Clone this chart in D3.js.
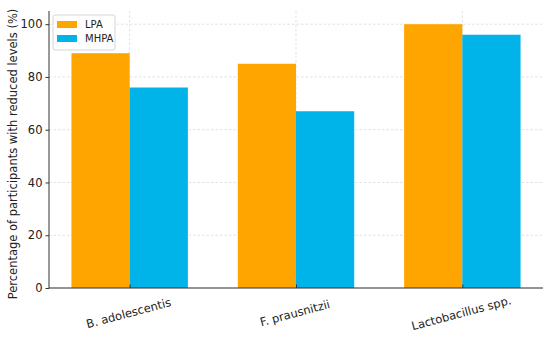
<!DOCTYPE html>
<html lang="en">
<head>
<meta charset="utf-8">
<title>reduced levels</title>
<script src="https://cdn.jsdelivr.net/npm/d3@7"></script>
<style>
  body { margin: 0; background: #fff; }
  text { font-family: "DejaVu Sans", sans-serif; fill: #222; }
</style>
</head>
<body>
<script>
var categories = ["B. adolescentis", "F. prausnitzii", "Lactobacillus spp."];
var seriesNames = ["LPA", "MHPA"];
var lpaValues = [89, 85, 100];
var mhpaValues = [76, 67, 96];
var yTicks = [0, 20, 40, 60, 80, 100];
var colors = ["#ffa500", "#00b3e8"];

var w = 550, h = 341;
var padLeft = 49, padRight = 543, padTop = 11, padBottom = 288;

var svg = d3.select("body").append("svg").attr("width", w).attr("height", h);

// bars sit at index -0.35..+0.35, matplotlib-style 5% margin
var xScale = d3.scaleLinear().domain([-0.485, 2.485]).range([padLeft, padRight]);
var yScale = d3.scaleLinear().domain([0, 105]).range([padBottom, padTop]);
var barW = 0.35;

// gridlines
svg.append("g").selectAll("line").data(yTicks).enter().append("line")
  .attr("x1", padLeft).attr("x2", padRight)
  .attr("y1", function(d){ return yScale(d); }).attr("y2", function(d){ return yScale(d); })
  .attr("stroke", "#d9d9d9").attr("stroke-width", 0.8).attr("stroke-dasharray", "2.5,2");
svg.append("g").selectAll("line").data(categories).enter().append("line")
  .attr("x1", function(d, i){ return xScale(i); }).attr("x2", function(d, i){ return xScale(i); })
  .attr("y1", padTop).attr("y2", padBottom)
  .attr("stroke", "#d9d9d9").attr("stroke-width", 0.8).attr("stroke-dasharray", "2.5,2");

// bars
var series = [lpaValues, mhpaValues];
series.forEach(function(vals, s){
  svg.append("g").selectAll("rect").data(vals).enter().append("rect")
    .attr("x", function(d, i){ return xScale(i - barW + s * barW); })
    .attr("width", xScale(barW) - xScale(0))
    .attr("y", function(d){ return yScale(d); })
    .attr("height", function(d){ return yScale(0) - yScale(d); })
    .attr("fill", colors[s]);
});

// y axis
var yAxis = d3.axisLeft(yScale).tickValues(yTicks).tickSize(3.5).tickPadding(3);
var gy = svg.append("g").attr("transform", "translate(" + padLeft + ",0)").call(yAxis);
gy.select(".domain").remove();
gy.selectAll("text").style("font-size", "11.5px").attr("fill", "#222");
gy.selectAll("line").attr("stroke", "#333");
svg.append("line").attr("x1", padLeft).attr("x2", padLeft).attr("y1", padTop).attr("y2", padBottom)
  .attr("stroke", "#333").attr("stroke-width", 1);

// x axis (ticks pointing inward)
var xAxis = d3.axisBottom(xScale).tickValues([0, 1, 2]).tickSize(-3.5).tickFormat("");
var gx = svg.append("g").attr("transform", "translate(0," + padBottom + ")").call(xAxis);
gx.select(".domain").remove();
gx.selectAll("line").attr("stroke", "#333");
svg.append("line").attr("x1", padLeft).attr("x2", padRight).attr("y1", padBottom).attr("y2", padBottom)
  .attr("stroke", "#333").attr("stroke-width", 1);

svg.append("g").selectAll("text").data(categories).enter().append("text")
  .attr("transform", function(d, i){ return "translate(" + xScale(i) + ",317) rotate(-15)"; })
  .attr("text-anchor", "middle")
  .style("font-size", "11.5px")
  .text(function(d){ return d; });

// y label
svg.append("text")
  .attr("transform", "translate(17,154) rotate(-90)")
  .attr("text-anchor", "middle")
  .style("font-size", "11.5px")
  .text("Percentage of participants with reduced levels (%)");

// legend
var lg = svg.append("g").attr("transform", "translate(53,15)");
lg.append("rect").attr("width", 62).attr("height", 35).attr("rx", 2)
  .attr("fill", "#fff").attr("fill-opacity", 0.85).attr("stroke", "#ccc").attr("stroke-width", 0.8);
seriesNames.forEach(function(name, s){
  lg.append("rect").attr("x", 4).attr("y", 6 + s * 14).attr("width", 20).attr("height", 7).attr("fill", colors[s]);
  lg.append("text").attr("x", 32).attr("y", 13 + s * 14).style("font-size", "10px").text(name);
});
</script>
</body>
</html>
